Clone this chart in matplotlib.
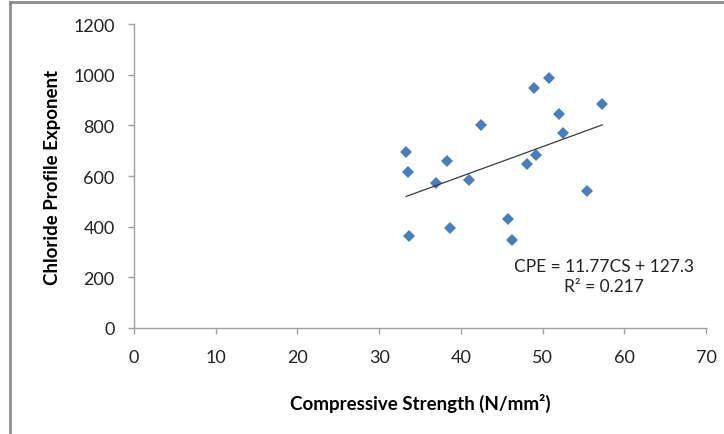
import matplotlib.pyplot as plt
import numpy as np

# Compressive strength (N/mm2) vs chloride profile exponent
strength = [33.3, 33.5, 33.6, 37.0, 38.3, 38.7, 41.0, 42.5, 45.8, 46.3,
            48.1, 49.0, 49.2, 50.8, 52.0, 52.5, 55.4, 57.3]
exponent = [693, 617, 365, 574, 658, 396, 584, 803, 431, 347,
            647, 949, 681, 985, 845, 769, 542, 884]

# Linear trend reported on the chart
slope = 11.77
intercept = 127.3
r_squared = 0.217

plt.rcParams["font.family"] = ["Lato", "DejaVu Sans"]

fig = plt.figure(figsize=(7.24, 4.35), dpi=100)
ax = fig.add_axes([134 / 724, 106 / 435, 572 / 724, 304 / 435])

ax.plot(strength, exponent, linestyle="none", marker="D", markersize=6.6,
        color="#4a7ebb", markeredgewidth=0)

xs = np.array([min(strength), max(strength)])
ax.plot(xs, slope * xs + intercept, color="#3a3a3a", linewidth=0.9)

ax.text(57.5, 205, f"CPE = {slope}CS + {intercept}\nR² = {r_squared}",
        ha="center", va="center", fontsize=12.5, color="#222222",
        linespacing=1.25)

ax.set_xlim(0, 70)
ax.set_ylim(0, 1200)
ax.set_xticks(range(0, 71, 10))
ax.set_yticks(range(0, 1201, 200))

for side in ("top", "right"):
    ax.spines[side].set_visible(False)
for side in ("left", "bottom"):
    ax.spines[side].set_color("#a0a0a0")
    ax.spines[side].set_linewidth(1)
ax.tick_params(direction="out", length=4, color="#a0a0a0", width=1,
               labelsize=13, labelcolor="#222222")
ax.tick_params(axis="x", pad=11)
ax.tick_params(axis="y", pad=10)

ax.set_xlabel("Compressive Strength (N/mm²)", fontsize=13.5, fontweight="bold",
              labelpad=20)
ax.set_ylabel("Chloride Profile Exponent", fontsize=13.5, fontweight="bold",
              labelpad=9)

# Grey frame along the left and top edges of the figure
fig.add_artist(plt.Line2D([10 / 724, 10 / 724], [0, 1 - 3 / 435],
                          color="#8c8c8c", linewidth=2))
fig.add_artist(plt.Line2D([10 / 724, 1], [1 - 3 / 435, 1 - 3 / 435],
                          color="#8c8c8c", linewidth=2))

fig.savefig("out.png", dpi=100)
